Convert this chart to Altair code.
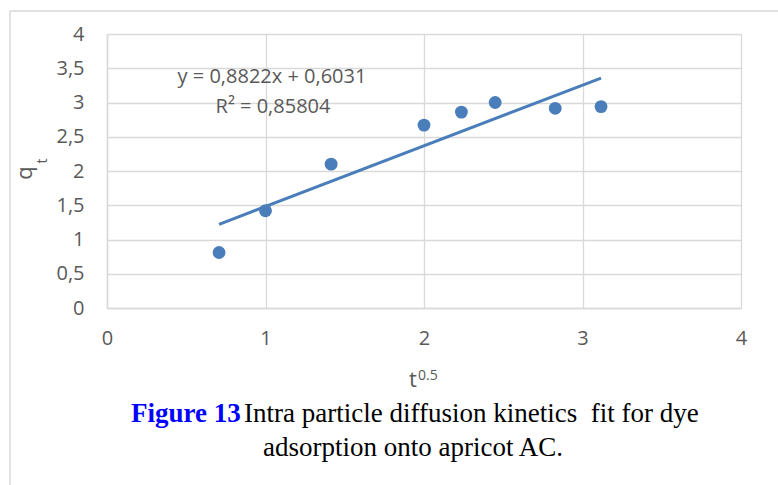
import altair as alt
import pandas as pd

# Data
x_vals = [0.707, 1.0, 1.414, 2.0, 2.236, 2.449, 2.828, 3.117]
y_vals = [0.81, 1.42, 2.10, 2.67, 2.86, 3.00, 2.915, 2.94]
x_ticks = [0.0, 1.0, 2.0, 3.0, 4.0]
y_ticks = [0.0, 0.5, 1.0, 1.5, 2.0, 2.5, 3.0, 3.5, 4.0]
eq_text = "y = 0,8822x + 0,6031"
r2_text = "R² = 0,85804"
cap_bold = "Figure 13"
cap_line1 = "Intra particle diffusion kinetics \u00a0fit for dye"
cap_line2 = "adsorption onto apricot AC."

df = pd.DataFrame({"x": x_vals, "y": y_vals})

BLUE = "#4a7ebb"
GRID = "#d9d9d9"
LABEL = "#595959"
FONT = "Open Sans"
W, H = 634, 274

xs = alt.Scale(domain=[0, 4], nice=False)
ys = alt.Scale(domain=[0, 4], nice=False)

x_axis = alt.Axis(values=x_ticks, title=None, grid=True, gridColor=GRID, gridWidth=1.3,
                  domainColor=GRID, domainWidth=1.5, ticks=False, labelFont=FONT,
                  labelFontSize=20, labelColor=LABEL, labelPadding=20,
                  labelFlush=False, labelOverlap=False,
                  labelExpr="replace(format(datum.value, '~g'), '.', ',')")
y_axis = alt.Axis(values=y_ticks, title=None, grid=True, gridColor=GRID,
                  gridWidth=1.3, domainColor=GRID, domainWidth=1.5, ticks=False,
                  labelFont=FONT, labelFontSize=20, labelColor=LABEL, labelPadding=23,
                  labelFlush=False, labelOverlap=False, labelBound=False,
                  labelExpr="replace(format(datum.value, '~g'), '.', ',')")

base = alt.Chart(df)

points = base.mark_circle(size=165, color=BLUE, opacity=1).encode(
    x=alt.X("x:Q", scale=xs, axis=x_axis),
    y=alt.Y("y:Q", scale=ys, axis=y_axis),
)

trend = base.transform_regression("x", "y", method="linear").mark_line(
    color=BLUE, strokeWidth=3
).encode(x=alt.X("x:Q", scale=xs, axis=None), y=alt.Y("y:Q", scale=ys, axis=None))

def txt(text, x, y, size, color=LABEL, font=FONT, align="center", baseline="middle",
        weight="normal", angle=0):
    return alt.Chart(pd.DataFrame({"t": [text]})).mark_text(
        font=font, fontSize=size, color=color, align=align, baseline=baseline,
        fontWeight=weight, angle=angle
    ).encode(text="t:N", x=alt.value(x), y=alt.value(y))

eq = txt(eq_text, 165, 43, 20)
r2 = txt(r2_text, 166, 73, 20)

xt_t = txt("t", 306, 353, 22, baseline="alphabetic")
xt_s = txt("0.5", 311, 346, 14, align="left", baseline="alphabetic")
yt_q = txt("q", -75, 139, 22, baseline="alphabetic", angle=270)
yt_t = txt("t", -60, 127, 14, baseline="alphabetic", angle=270)

cap1 = txt(cap_bold, 24, 388, 27, color="#0000ff", font="Liberation Serif",
           align="left", baseline="alphabetic", weight="bold")
cap2 = txt(cap_line1, 137, 388, 27, color="#000000", font="Liberation Serif",
           align="left", baseline="alphabetic")
cap3 = txt(cap_line2, 306, 422, 27, color="#000000", font="Liberation Serif",
           baseline="alphabetic")

frame_top = alt.Chart(pd.DataFrame({"a": [0]})).mark_rule(color=GRID, strokeWidth=1.5).encode(
    x=alt.value(-97), x2=alt.value(671), y=alt.value(-23))
frame_left = alt.Chart(pd.DataFrame({"a": [0]})).mark_rule(color=GRID, strokeWidth=1.5).encode(
    x=alt.value(-97), y=alt.value(-23), y2=alt.value(451))

chart = alt.layer(
    points, trend, frame_top, frame_left, eq, r2, xt_t, xt_s, yt_q, yt_t, cap1, cap2, cap3
).resolve_axis(x="independent", y="independent").properties(
    width=W, height=H,
    autosize=alt.AutoSizeParams(type="none"),
    padding={"left": 107, "top": 34, "right": 37, "bottom": 177},
    background="white",
).configure_view(stroke=None)

chart.save("out.html", embed_options={"renderer": "svg", "actions": False})
